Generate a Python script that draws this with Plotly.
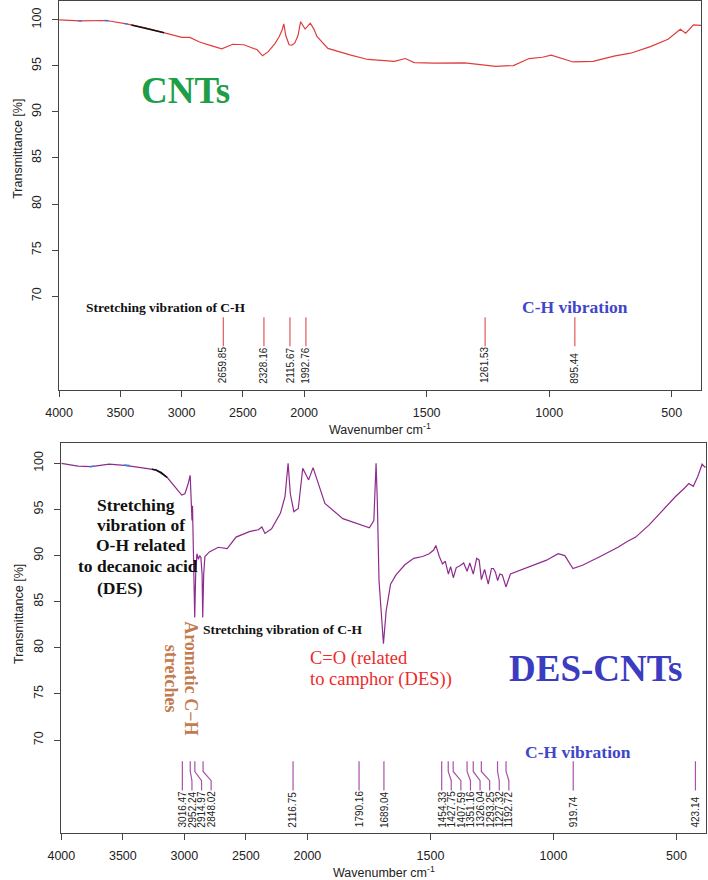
import numpy as np
import plotly.graph_objects as go

# ---------------- data ----------------
tick_wn = [4000, 3500, 3000, 2500, 2000, 1500, 1000, 500]
tick_T = [70, 75, 80, 85, 90, 95, 100]

# CNTs spectrum (top)
cnt_wn = [4000, 3830, 3613, 3450, 3288, 3143, 3050, 2998, 2933, 2854, 2760, 2673, 2582,
          2492, 2383, 2340, 2293, 2240, 2203, 2180, 2166, 2150, 2123, 2100, 2076, 2050,
          2029, 2010, 1996, 1975, 1960, 1948, 1903, 1813, 1740, 1632, 1587, 1551, 1470,
          1344, 1218, 1146, 1082, 1028, 992, 902, 821, 731, 668, 587, 515, 465, 443,
          411, 386, 380]
cnt_T = [100.0, 99.9, 99.93, 99.57, 99.1, 98.6, 98.35, 98.1, 98.1, 97.6, 97.2, 96.85, 97.35,
         97.3, 96.75, 96.1, 96.55, 97.4, 98.2, 98.9, 99.57, 98.3, 97.3, 97.25, 97.5, 98.3,
         99.8, 99.4, 99.0, 99.64, 99.0, 98.2, 96.9, 96.2, 95.7, 95.5, 95.8, 95.36, 95.3,
         95.33, 94.96, 95.04, 95.8, 95.94, 96.16, 95.43, 95.5, 96.09, 96.38, 97.1, 97.9, 98.99, 98.55,
         99.46, 99.46, 99.4]
cnt_black_wn = [3410, 3340, 3288, 3220, 3143]
cnt_black_T = [99.45, 99.25, 99.1, 98.85, 98.6]
cnt_blue_wn = [[3845, 3815], [3630, 3595], [3465, 3440]]
cnt_blue_T = [[99.9, 99.88], [99.93, 99.9], [99.6, 99.55]]
cnt_peaks = [2659.85, 2328.16, 2115.67, 1992.76, 1261.53, 895.44]

# DES-CNTs spectrum (bottom)
des_wn = [4000, 3864, 3756, 3611, 3466, 3340, 3231, 3141, 3068, 3021, 2996, 2971, 2953,
          2944, 2938, 2934, 2928, 2916, 2908, 2898, 2886, 2876, 2866, 2856, 2851, 2843,
          2833, 2797, 2725, 2652, 2580, 2472, 2399, 2370, 2345, 2291, 2219, 2182, 2157,
          2139, 2110, 2074, 2038, 2016, 1995, 1977, 1956, 1929, 1856, 1784, 1748, 1730,
          1721, 1716, 1709, 1691, 1680, 1662, 1640, 1604, 1568, 1532, 1505, 1487, 1478,
          1464, 1451, 1440, 1427, 1418, 1407, 1395, 1380, 1365, 1351, 1340, 1326, 1312,
          1302, 1293, 1280, 1265, 1252, 1244, 1236, 1227, 1218, 1208, 1193, 1175, 1136,
          1082, 1028, 981, 954, 921, 882, 810, 738, 702, 666, 612, 558, 504, 468, 450,
          432, 414, 396, 386, 380]
des_T = [100.0, 99.7, 99.64, 99.9, 99.75, 99.5, 99.28, 98.48, 97.28, 96.56, 96.7, 97.7, 98.7,
         96.5, 93.8, 95.4, 92.0, 83.3, 88.0, 90.2, 89.6, 90.0, 89.8, 88.0, 83.3, 88.0,
         89.9, 90.4, 90.9, 90.75, 92.0, 92.6, 92.8, 93.1, 92.4, 92.9, 94.6, 96.4, 100.0,
         96.7, 94.75, 95.1, 99.46, 98.9, 98.2, 99.53, 97.8, 95.65, 94.0, 93.3, 93.0, 93.8,
         100.0, 96.0, 87.3, 80.45, 84.0, 86.9, 87.9, 89.0, 89.7, 89.9, 90.2, 90.6, 91.1,
         89.9, 89.1, 89.4, 88.0, 88.8, 87.6, 88.7, 88.9, 89.2, 88.3, 89.2, 88.0, 89.7,
         89.5, 87.4, 88.5, 86.9, 88.6, 88.6, 88.2, 87.3, 88.0, 87.9, 86.6, 88.0, 88.4,
         88.95, 89.5, 90.2, 90.0, 88.6, 88.95, 89.9, 90.9, 91.5, 92.0, 93.3, 94.9, 96.4, 97.3, 97.8,
         97.5, 98.55, 99.9, 99.6, 99.6]
des_black_wn = [3265, 3231, 3190, 3141]
des_black_T = [99.35, 99.28, 99.0, 98.48]
des_blue_wn = [[3770, 3735], [3490, 3445]]
des_blue_T = [[99.62, 99.7], [99.8, 99.75]]
des_peaks = [3016.47, 2952.24, 2914.97, 2848.02, 2116.75, 1790.16, 1689.04, 1454.33,
             1427.75, 1407.59, 1351.16, 1326.04, 1293.25, 1227.32, 1192.72, 919.74, 423.14]

# ---------------- helpers ----------------
W, H = 708, 880


def u(wn):
    """FTIR split scale: below 2000 cm-1 the axis is stretched 2x."""
    wn = np.asarray(wn, dtype=float)
    return np.where(wn >= 2000, 4000 - wn, 2000 + 2 * (2000 - wn))


def spread(peaks, gap=78.0):
    up = u(peaks)
    order = np.argsort(up)
    lab = np.empty_like(up)
    prev = -1e9
    for i in order:
        v = max(up[i], prev + gap)
        lab[i] = v
        prev = v
    return up, lab


def xdom(x0, x1):
    return [x0 / W, x1 / W]


def ydom(y0, y1):  # pixel rows (top, bottom)
    return [1 - y1 / H, 1 - y0 / H]


SANS = "Liberation Sans, Arial, sans-serif"
SERIF = "Liberation Serif, Times New Roman, serif"
AX = "#444444"

fig = go.Figure()

panels = [
    dict(xa="x", ya="y", wn=cnt_wn, T=cnt_T, col="#e03c3c", lcol="#e05a5a",
         bw=cnt_black_wn, bT=cnt_black_T, blw=cnt_blue_wn, blT=cnt_blue_T, peaks=cnt_peaks),
    dict(xa="x2", ya="y2", wn=des_wn, T=des_T, col="#8e2b8e", lcol="#a852a8",
         bw=des_black_wn, bT=des_black_T, blw=des_blue_wn, blT=des_blue_T, peaks=des_peaks),
]

annotations = []
for p in panels:
    fig.add_trace(go.Scatter(x=u(p["wn"]), y=p["T"], mode="lines", xaxis=p["xa"], yaxis=p["ya"],
                             line=dict(color=p["col"], width=1.2), showlegend=False, hoverinfo="skip"))
    fig.add_trace(go.Scatter(x=u(p["bw"]), y=p["bT"], mode="lines", xaxis=p["xa"], yaxis=p["ya"],
                             line=dict(color="#111111", width=1.6), showlegend=False, hoverinfo="skip"))
    for bw, bT in zip(p["blw"], p["blT"]):
        fig.add_trace(go.Scatter(x=u(bw), y=bT, mode="lines", xaxis=p["xa"], yaxis=p["ya"],
                                 line=dict(color="#3a7ee0", width=1.6), showlegend=False, hoverinfo="skip"))
    up, lab = spread(p["peaks"])
    lx, ly = [], []
    for a, b in zip(up, lab):
        lx += [a, a, b, b, None]
        ly += [67.7, 66.6, 65.6, 64.55, None]
    fig.add_trace(go.Scatter(x=lx, y=ly, mode="lines", xaxis=p["xa"], yaxis=p["ya"],
                             line=dict(color=p["lcol"], width=1.2), showlegend=False, hoverinfo="skip"))
    for pk, b in zip(p["peaks"], lab):
        annotations.append(dict(x=b, y=60.3, xref=p["xa"], yref=p["ya"], text=f"{pk:.2f}",
                                textangle=-90, xanchor="center", yanchor="bottom", showarrow=False,
                                font=dict(family=SANS, size=10, color="#222222")))
    # axis titles
    annotations.append(dict(x=0.5, y=0, xref=p["xa"] + " domain", yref=p["ya"] + " domain",
                            yshift=-39, text="Wavenumber cm<sup>-1</sup>", showarrow=False,
                            xanchor="center", yanchor="middle",
                            font=dict(family=SANS, size=12.5, color="#222222")))

annotations.append(dict(x=0, y=86.0, xref="x domain", yref="y", xshift=-41,
                        text="Transmittance [%]", textangle=-90, showarrow=False,
                        xanchor="center", yanchor="middle",
                        font=dict(family=SANS, size=12.5, color="#222222")))
annotations.append(dict(x=0, y=83.7, xref="x2 domain", yref="y2", xshift=-43,
                        text="Transmittance [%]", textangle=-90, showarrow=False,
                        xanchor="center", yanchor="middle",
                        font=dict(family=SANS, size=12.5, color="#222222")))


def txt(text, x, y, xa, ya, size, color, bold=True, xanchor="center", angle=0):
    t = f"<b>{text}</b>" if bold else text
    annotations.append(dict(x=x, y=y, xref=xa, yref=ya, text=t, showarrow=False,
                            xanchor=xanchor, yanchor="middle", textangle=angle,
                            font=dict(family=SERIF, size=size, color=color)))


# top panel texts
txt("CNTs", 1032, 92.3, "x", "y", 37, "#1e9e46")
txt("Stretching vibration of C-H", 200, 68.8, "x", "y", 13.5, "#111111", xanchor="left")
txt("C-H vibration", 4208, 68.86, "x", "y", 17.5, "#4146c8")

# bottom panel texts
txt("DES-CNTs", 4338, 77.8, "x2", "y2", 37, "#3b3cbf")
txt("C-H vibration", 4202, 68.66, "x2", "y2", 17.5, "#4146c8")
txt("Stretching vibration of C-H", 1136, 81.95, "x2", "y2", 13.5, "#111111", xanchor="left")
txt("C=O (related", 2004, 78.8, "x2", "y2", 18.5, "#ee2a2a", bold=False, xanchor="left")
txt("to camphor (DES))", 2004, 76.6, "x2", "y2", 18.5, "#ee2a2a", bold=False, xanchor="left")
txt("Stretching", 604, 95.46, "x2", "y2", 17.5, "#111111")
txt("vibration of", 646, 93.28, "x2", "y2", 17.5, "#111111")
txt("O-H related", 650, 91.1, "x2", "y2", 17.5, "#111111")
txt("to decanoic acid", 624, 88.92, "x2", "y2", 17.5, "#111111")
txt("(DES)", 480, 86.5, "x2", "y2", 17.5, "#111111")
txt("Aromatic C\u2212H", 1057, 76.67, "x2", "y2", 18, "#c27a4e", angle=90)
txt("stretches", 897, 76.67, "x2", "y2", 18, "#c27a4e", angle=90)

xcommon = dict(showline=True, linecolor=AX, linewidth=1, mirror=True, ticks="outside", ticklen=6,
               tickcolor=AX, tickwidth=1, showgrid=False, zeroline=False,
               tickvals=u(tick_wn), ticktext=[str(t) for t in tick_wn], range=[0, 5240],
               tickfont=dict(family=SANS, size=12.5, color="#222222"), ticklabelstandoff=5)
ycommon = dict(showline=True, linecolor=AX, linewidth=1, mirror=True, ticks="outside", ticklen=6,
               tickcolor=AX, tickwidth=1, showgrid=False, zeroline=False,
               tickvals=tick_T, ticktext=[str(t) for t in tick_T], tickangle=-90,
               tickfont=dict(family=SANS, size=12.5, color="#222222"), ticklabelstandoff=6)

fig.update_layout(
    width=W, height=H, autosize=False,
    margin=dict(l=0, r=0, t=0, b=0),
    paper_bgcolor="white", plot_bgcolor="white",
    showlegend=False,
    xaxis=dict(xcommon, domain=xdom(46, 701), anchor="y"),
    yaxis=dict(ycommon, domain=ydom(1, 390), range=[59.8, 102.05], anchor="x"),
    xaxis2=dict(xcommon, domain=xdom(48.3, 706), anchor="y2"),
    yaxis2=dict(ycommon, domain=ydom(443, 833.3), range=[59.9, 102.2], anchor="x2"),
    annotations=annotations,
)

fig.write_html("out.html")
